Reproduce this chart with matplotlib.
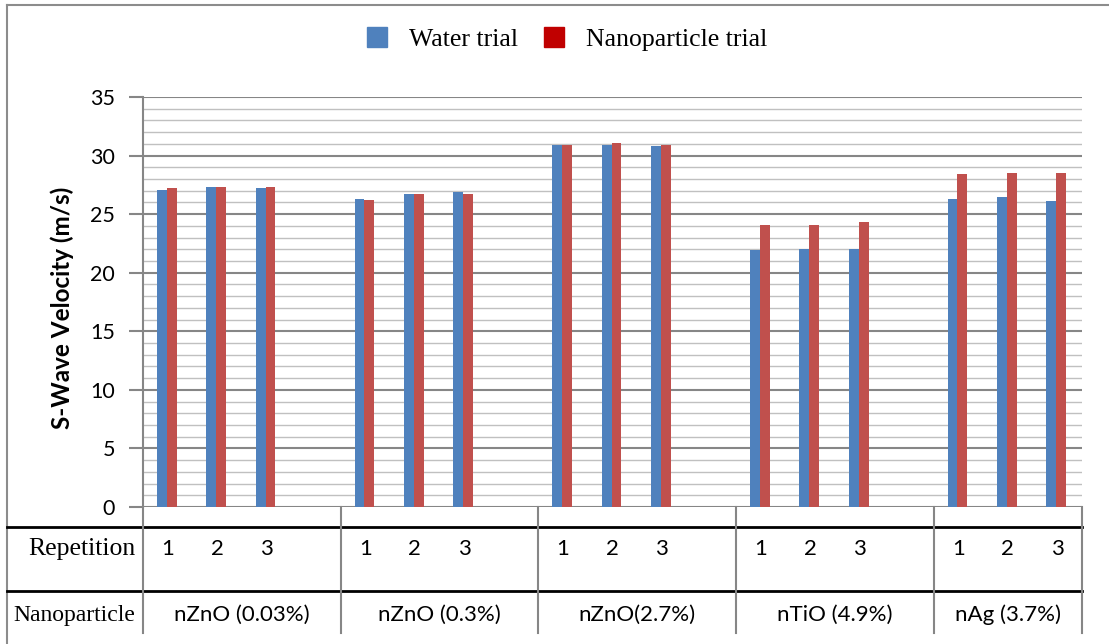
"""
S-wave velocity per repetition: water trial vs nanoparticle trial,
grouped by nanoparticle type, with an Excel-style data table under the axis.
"""

import numpy as np
import matplotlib
matplotlib.use("Agg")
import matplotlib.pyplot as plt
from matplotlib.patches import Patch
from matplotlib.ticker import MultipleLocator

# ---------- data ----------
groups = ["nZnO (0.03%)", "nZnO (0.3%)", "nZnO(2.7%)", "nTiO (4.9%)", "nAg (3.7%)"]
repetitions = ["1", "2", "3"]
water_trial = [
    [27.1, 27.3, 27.2],
    [26.3, 26.7, 26.9],
    [30.9, 30.9, 30.8],
    [21.9, 22.0, 22.0],
    [26.3, 26.5, 26.1],
]
nano_trial = [
    [27.2, 27.3, 27.3],
    [26.2, 26.7, 26.7],
    [30.9, 31.1, 30.9],
    [24.1, 24.1, 24.3],
    [28.4, 28.5, 28.5],
]
# each group gets one empty slot after its repetitions, except the last
slots_per_group = [4, 4, 4, 4, 3]

BLUE = "#4F81BD"
RED = "#C0504D"
LEGEND_RED = "#C00000"
GRID_MAJOR = "#868686"
GRID_MINOR = "#C0C0C0"
SANS = "Lato"
SERIF = "Liberation Serif"

W, H = 1109, 644


def px_rect(x0, y0, x1, y1):
    """Figure-fraction rect from pixel box (top-left origin)."""
    return [x0 / W, 1 - y1 / H, (x1 - x0) / W, (y1 - y0) / H]


fig = plt.figure(figsize=(W / 100, H / 100), dpi=100)

# background layer in pixel coordinates for the frame and table rules
bg = fig.add_axes([0, 0, 1, 1], zorder=0)
bg.set_xlim(0, W)
bg.set_ylim(H, 0)
bg.axis("off")

ax = fig.add_axes(px_rect(143, 97, 1082, 507), zorder=1)
ax.patch.set_alpha(0)

starts = np.concatenate([[0], np.cumsum(slots_per_group)[:-1]])
edges = np.cumsum(slots_per_group)
n_slots = edges[-1]

w = 0.2
for g in range(len(groups)):
    xc = starts[g] + np.arange(len(repetitions)) + 0.48
    ax.bar(xc - w / 2, water_trial[g], w, color=BLUE, zorder=3)
    ax.bar(xc + w / 2, nano_trial[g], w, color=RED, zorder=3)

ax.set_xlim(0, n_slots)
ax.set_ylim(0, 35)
ax.yaxis.set_major_locator(MultipleLocator(5))
ax.yaxis.set_minor_locator(MultipleLocator(1))
ax.grid(which="major", axis="y", color=GRID_MAJOR, lw=1.5, zorder=1)
ax.grid(which="minor", axis="y", color=GRID_MINOR, lw=1.0, zorder=1)
ax.set_axisbelow(True)
for side in ("top", "right", "bottom"):
    ax.spines[side].set_visible(False)
ax.spines["left"].set_color(GRID_MAJOR)
ax.spines["left"].set_linewidth(1.5)
ax.set_xticks([])
ax.tick_params(axis="y", which="major", length=10, width=1.5,
               color=GRID_MAJOR, labelsize=15.5, pad=10)
ax.tick_params(axis="y", which="minor", length=0)
for lbl in ax.get_yticklabels():
    lbl.set_fontfamily(SANS)

ax.text(-0.0863, 0.4866, "S-Wave Velocity (m/s)", transform=ax.transAxes,
        rotation=90, ha="center", va="center", fontsize=17.5,
        fontweight="bold", family=SANS)

# ---------- table under the axis ----------
xt = ax.get_xaxis_transform()
tbl_bottom = (507 - 633) / 410
row_rep = (507 - 549) / 410
row_np = (507 - 615) / 410

ax.plot([0, 0], [0, tbl_bottom], transform=xt, color=GRID_MAJOR,
        lw=1.5, clip_on=False)
for e in edges:
    ax.plot([e, e], [0, tbl_bottom], transform=xt, color=GRID_MAJOR,
            lw=1.5, clip_on=False)

for g, name in enumerate(groups):
    for r, rep in enumerate(repetitions):
        ax.text(starts[g] + r + 0.5, row_rep, rep, transform=xt,
                ha="center", va="center", fontsize=16, family=SANS)
    ax.text((starts[g] + edges[g]) / 2, row_np, name, transform=xt,
            ha="center", va="center", fontsize=16, family=SANS)

# outer frame and black row rules
bg.plot([7, 7], [5, H], color="#8c8c8c", lw=1.5)
bg.plot([7, W], [5, 5], color="#8c8c8c", lw=1.5)
for yy in (527, 591):
    bg.plot([7, 1082], [yy, yy], color="black", lw=2)

bg.text(136, 549, "Repetition", ha="right", va="center",
        fontsize=18.5, family=SERIF)
bg.text(135, 615, "Nanoparticle", ha="right", va="center",
        fontsize=17, family=SERIF)

# ---------- legend ----------
handles = [Patch(color=BLUE), Patch(color=LEGEND_RED)]
fig.legend(handles, ["Water trial", "Nanoparticle trial"],
           loc="center", bbox_to_anchor=(567 / W, 1 - 39 / H), ncol=2,
           frameon=False, prop={"family": SERIF, "size": 18.5},
           handlelength=0.8, handleheight=0.8, handletextpad=0.85,
           columnspacing=1.0)

fig.savefig("out.png", dpi=100)
